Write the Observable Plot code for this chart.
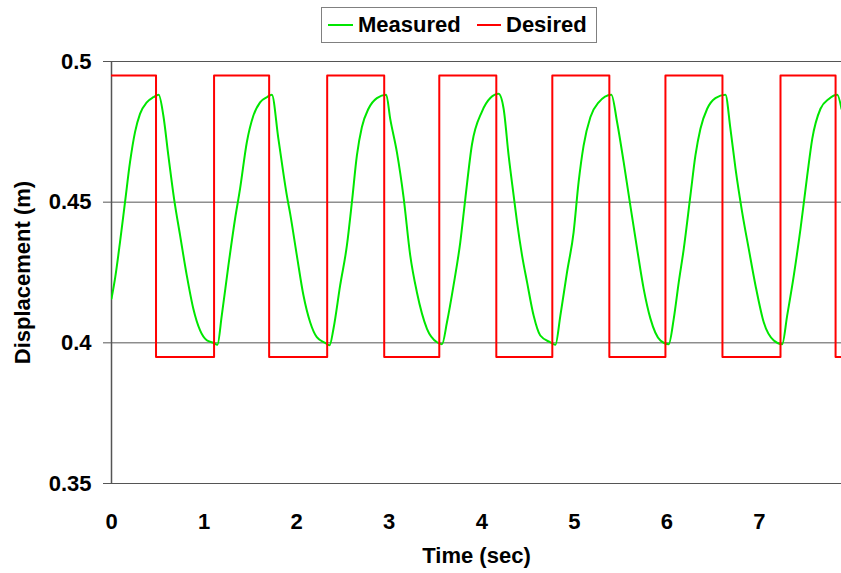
<!DOCTYPE html>
<html>
<head>
<meta charset="utf-8">
<script src="https://cdn.jsdelivr.net/npm/d3@7"></script>
<script src="https://cdn.jsdelivr.net/npm/@observablehq/plot@0.6"></script>
<style>
  html, body { margin: 0; padding: 0; background: #fff; }
  body { width: 841px; height: 573px; overflow: hidden; font-family: "Liberation Sans", Arial, sans-serif; }
  #legend { position: relative; width: 841px; height: 50px; }
  #legend .box { position: absolute; left: 321px; top: 7px; width: 274px; height: 34px; border: 1px solid #808080; box-sizing: content-box; }
  #legend .sw { position: absolute; height: 2px; top: 18px; }
  #legend .lab { position: absolute; top: 5px; font-weight: bold; font-size: 22px; line-height: 26px; color: #000; }
</style>
</head>
<body>
<div id="legend"></div>
<div id="chart"></div>
<script>
// ---- data ----
const seriesNames = ["Measured", "Desired"];
const seriesColors = ["#00e600", "#ff0000"];

const measuredTime = [
  0, 0.038, 0.092, 0.146, 0.200, 0.254, 0.308, 0.381, 0.452, 0.510,
  0.560, 0.614, 0.676, 0.741, 0.813, 0.884, 0.957, 1.029, 1.101, 1.144,
  1.191, 1.263, 1.335, 1.389, 1.462, 1.533, 1.605, 1.678, 1.732, 1.803,
  1.894, 1.930, 2.002, 2.074, 2.146, 2.218, 2.308, 2.355, 2.398, 2.470,
  2.543, 2.597, 2.651, 2.705, 2.776, 2.867, 2.968, 3.011, 3.083, 3.155,
  3.227, 3.299, 3.408, 3.516, 3.570, 3.624, 3.695, 3.768, 3.822, 3.894,
  4.002, 4.092, 4.182, 4.236, 4.290, 4.344, 4.381, 4.435, 4.489, 4.560,
  4.632, 4.741, 4.795, 4.849, 4.921, 4.992, 5.046, 5.100, 5.173, 5.263,
  5.400, 5.462, 5.533, 5.605, 5.678, 5.749, 5.822, 5.930, 6.019, 6.074,
  6.128, 6.182, 6.254, 6.308, 6.362, 6.435, 6.524, 6.632, 6.686, 6.741,
  6.813, 6.884, 6.957, 7.046, 7.155, 7.245, 7.299, 7.371, 7.443, 7.516,
  7.570, 7.659, 7.749, 7.840, 7.886
];
const measuredValue = [
  0.4157, 0.4228, 0.4358, 0.4500, 0.4642, 0.4749, 0.4814, 0.4855, 0.4873, 0.4882,
  0.4808, 0.4666, 0.4512, 0.4382, 0.4240, 0.4121, 0.4044, 0.4009, 0.4000, 0.3993,
  0.4097, 0.4275, 0.4441, 0.4548, 0.4713, 0.4808, 0.4855, 0.4873, 0.4882, 0.4725,
  0.4524, 0.4459, 0.4311, 0.4168, 0.4073, 0.4020, 0.4000, 0.3991, 0.4050, 0.4204,
  0.4346, 0.4500, 0.4666, 0.4767, 0.4832, 0.4870, 0.4882, 0.4796, 0.4678, 0.4518,
  0.4311, 0.4180, 0.4050, 0.4002, 0.3995, 0.4073, 0.4204, 0.4358, 0.4512, 0.4705,
  0.4822, 0.4870, 0.4885, 0.4832, 0.4666, 0.4524, 0.4429, 0.4311, 0.4216, 0.4097,
  0.4026, 0.4002, 0.3993, 0.4097, 0.4251, 0.4393, 0.4571, 0.4701, 0.4802, 0.4855,
  0.4882, 0.4784, 0.4642, 0.4488, 0.4334, 0.4192, 0.4086, 0.4008, 0.3995, 0.4086,
  0.4216, 0.4334, 0.4524, 0.4666, 0.4761, 0.4832, 0.4870, 0.4882, 0.4761, 0.4619,
  0.4464, 0.4334, 0.4204, 0.4073, 0.4008, 0.3995, 0.4097, 0.4240, 0.4405, 0.4595,
  0.4725, 0.4832, 0.4867, 0.4882, 0.4832
];

const desiredTime = [0, 0.481, 1.108, 1.703, 2.330, 2.946, 3.541, 4.157, 4.762, 5.378, 5.984, 6.600, 7.227, 7.822, 7.886];
const desiredValue = [0.495, 0.395, 0.495, 0.395, 0.495, 0.395, 0.495, 0.395, 0.495, 0.395, 0.495, 0.395, 0.495, 0.395, 0.395];

const xTicks = [0, 1, 2, 3, 4, 5, 6, 7];
const yTicks = [0.35, 0.4, 0.45, 0.5];
const yTickLabels = ["0.35", "0.4", "0.45", "0.5"];
const gridValues = [0.4, 0.45, 0.5];
const xTitle = "Time (sec)";
const yTitle = "Displacement (m)";

// ---- tables ----
const measured = measuredTime.map((t, i) => ({t, v: measuredValue[i]}));
const desired = desiredTime.map((t, i) => ({t, v: desiredValue[i]}));

// ---- legend ----
const legend = document.getElementById("legend");
legend.innerHTML = `
  <div class="box"></div>
  <div class="sw" style="left:328px;width:25px;top:24px;background:${seriesColors[0]}"></div>
  <div class="lab" style="left:358px;top:12px">${seriesNames[0]}</div>
  <div class="sw" style="left:477px;width:24px;top:24px;background:${seriesColors[1]}"></div>
  <div class="lab" style="left:506px;top:12px">${seriesNames[1]}</div>
`;

// ---- chart ----
const gridColor = "#555";
const chart = Plot.plot({
  width: 841,
  height: 523,
  marginLeft: 111,
  marginRight: 0,
  marginTop: 11,
  marginBottom: 90,
  style: {fontFamily: "'Liberation Sans', Arial, sans-serif", fontSize: "22px", fontWeight: "bold", color: "#000", background: "#fff"},
  x: {domain: [0, 7.886]},
  y: {domain: [0.35, 0.5]},
  marks: [
    Plot.ruleY(gridValues, {stroke: gridColor, strokeWidth: 1}),
    Plot.ruleY([0.35], {stroke: gridColor, strokeWidth: 1}),
    Plot.ruleX([0], {stroke: gridColor, strokeWidth: 1.5}),
    Plot.axisX({ticks: xTicks, tickSize: 0, tickPadding: 30, label: null, tickFormat: d => String(d), fontSize: 22, fontWeight: "bold"}),
    Plot.axisY({ticks: yTicks, tickSize: 8, tickPadding: 12, stroke: gridColor, label: null,
      tickFormat: (d) => yTickLabels[yTicks.indexOf(d)], fontSize: 22, fontWeight: "bold"}),
    Plot.line(measured, {x: "t", y: "v", stroke: seriesColors[0], strokeWidth: 2, curve: "monotone-x", clip: true}),
    Plot.line(desired, {x: "t", y: "v", stroke: seriesColors[1], strokeWidth: 2, curve: "step-after", clip: true}),
    Plot.text([xTitle], {text: d => d, frameAnchor: "bottom", lineAnchor: "middle", textAnchor: "middle", dy: 72, fontSize: 22, fontWeight: "bold"}),
    Plot.text([yTitle], {text: d => d, frameAnchor: "left", lineAnchor: "middle", textAnchor: "middle", rotate: -90, dx: -89, fontSize: 22, fontWeight: "bold"})
  ]
});
document.getElementById("chart").appendChild(chart);
</script>
</body>
</html>
